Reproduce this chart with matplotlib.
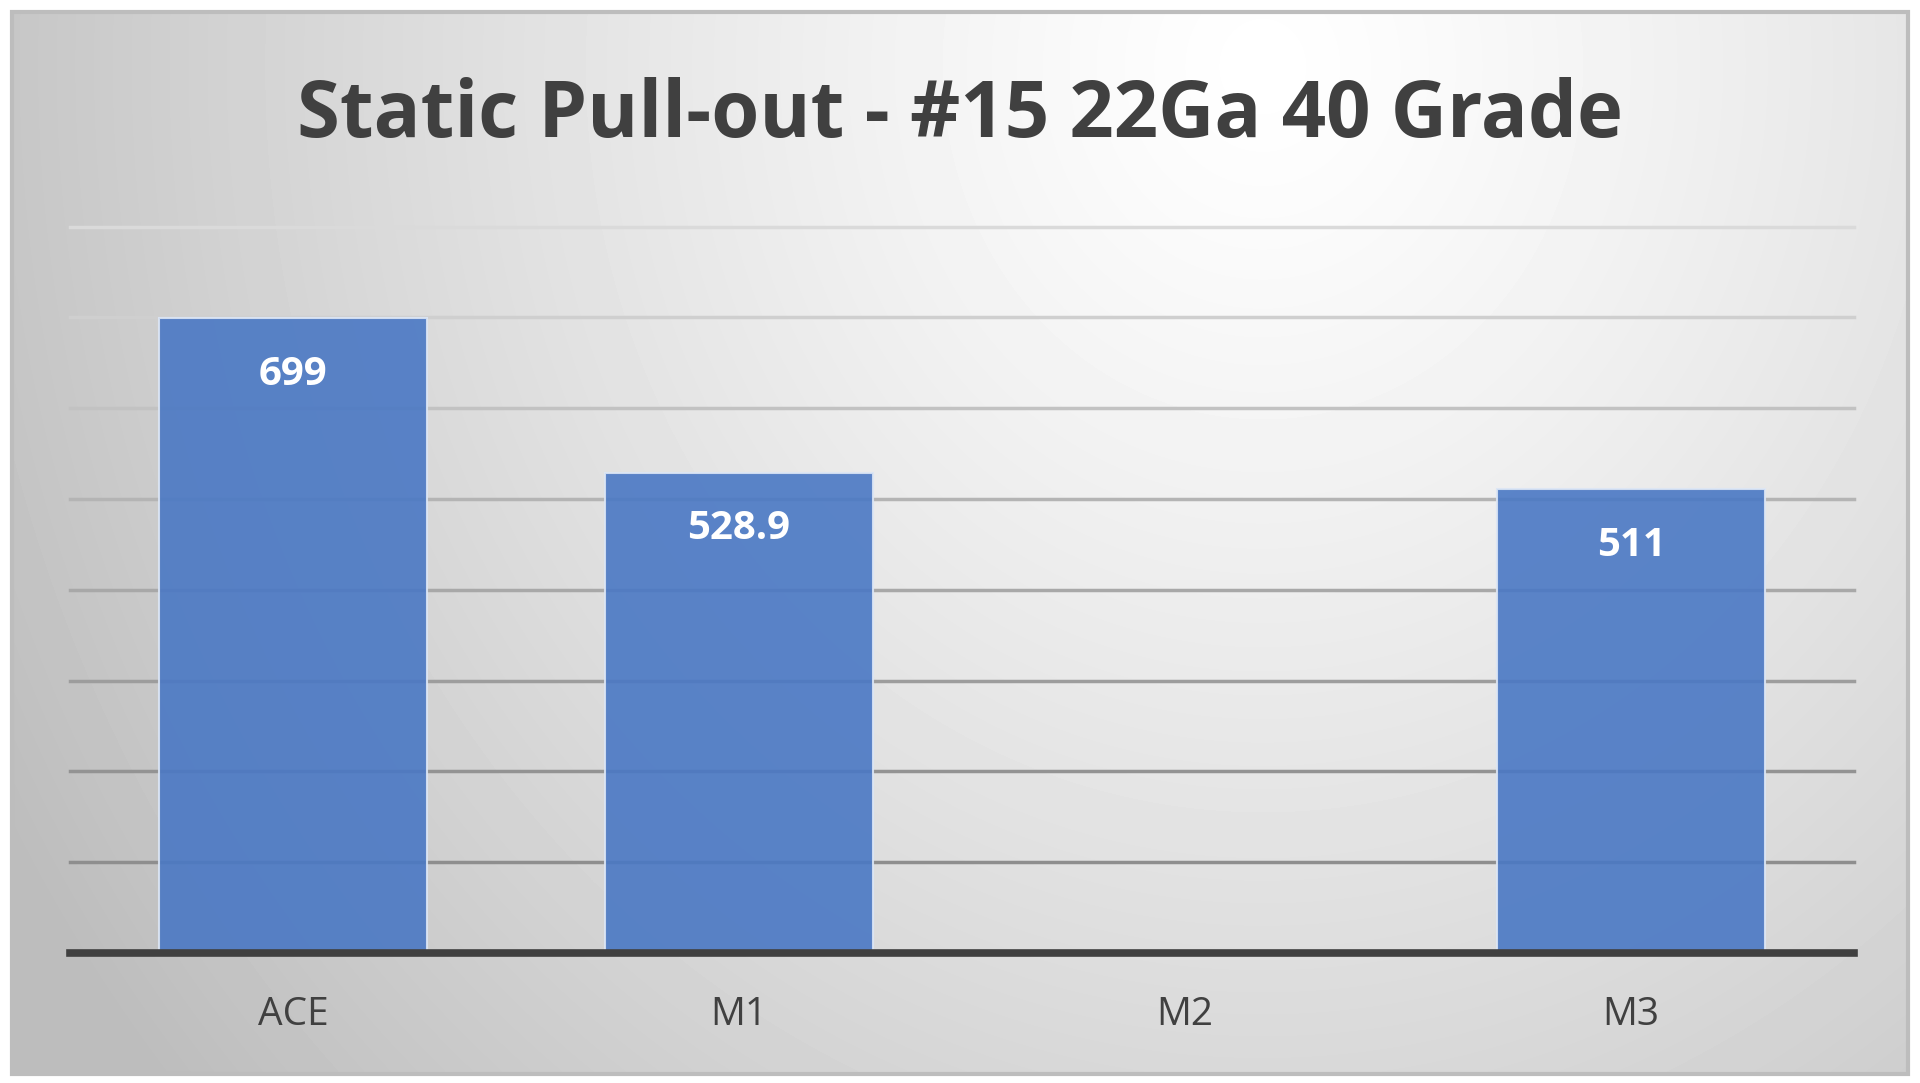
import numpy as np
import matplotlib.pyplot as plt
from matplotlib.patches import Rectangle

# Chart data
categories = ['ACE', 'M1', 'M2', 'M3']
values = [699, 528.9, np.nan, 511]
value_labels = ['699', '528.9', '', '511']
grid_values = [100, 200, 300, 400, 500, 600, 700, 800]
title = 'Static Pull-out - #15 22Ga 40 Grade'

W, H = 1920, 1083
fig = plt.figure(figsize=(W / 100, H / 100), dpi=100)
fig.patch.set_facecolor('white')

# Radial grey gradient background inside the border box
bg = fig.add_axes([12 / W, 1 - 1074 / H, (1908 - 12) / W, (1074 - 12) / H])
yy, xx = np.mgrid[0:1:300j, 0:1:540j]
r = np.sqrt(((xx - 0.66) / 0.66) ** 2 + ((yy - 0.05) / 1.3) ** 2)
shade = np.clip(1.0 - 0.22 * r ** 1.2, 0.74, 1.0)
bg.imshow(shade, cmap='gray', vmin=0, vmax=1, aspect='auto',
          extent=[0, 1, 1, 0], interpolation='bicubic')
bg.set_xlim(0, 1)
bg.set_ylim(1, 0)
bg.axis('off')
bg.add_patch(Rectangle((0, 0), 1, 1, fill=False, edgecolor='#bdbdbd', lw=3,
                       transform=bg.transAxes, clip_on=False))

# Plot area
ax = fig.add_axes([70 / W, 1 - 953 / H, (1854 - 70) / W, (953 - 226.5) / H])
ax.patch.set_alpha(0)
x = np.arange(len(categories))
ax.set_xlim(-0.5, len(categories) - 0.5)
ax.set_ylim(0, 800)

# Gridlines get lighter towards the top
grid_colors = ['#8e8e8e', '#939393', '#9d9d9d', '#a8a8a8',
               '#b4b4b4', '#c2c2c2', '#cfcfcf', '#dadada']
for gv, gc in zip(grid_values, grid_colors):
    ax.axhline(gv, color=gc, lw=2.5, zorder=1, clip_on=False)

bars = ax.bar(x, np.nan_to_num(values), width=0.6, color='#4a78c4', alpha=0.9,
              edgecolor='#dce6f5', linewidth=1.5, zorder=2)

ax.axhline(0, color='#404040', lw=5.5, zorder=3, clip_on=False)

for xi, v, lab in zip(x, values, value_labels):
    if lab:
        ax.text(xi, v - 62, lab, ha='center', va='center', color='white',
                fontsize=29, fontweight='bold', family='Open Sans', zorder=4)

ax.set_xticks(x)
ax.set_xticklabels(categories, fontsize=28, color='#404040', family='Open Sans')
ax.tick_params(axis='x', length=0, pad=31)
ax.set_yticks([])
for s in ax.spines.values():
    s.set_visible(False)

fig.text(0.5, 1 - 116 / H, title, ha='center', va='center', fontsize=56,
         fontweight='bold', color='#404040', family='Open Sans')

fig.savefig('out.png', dpi=100, facecolor='white')
